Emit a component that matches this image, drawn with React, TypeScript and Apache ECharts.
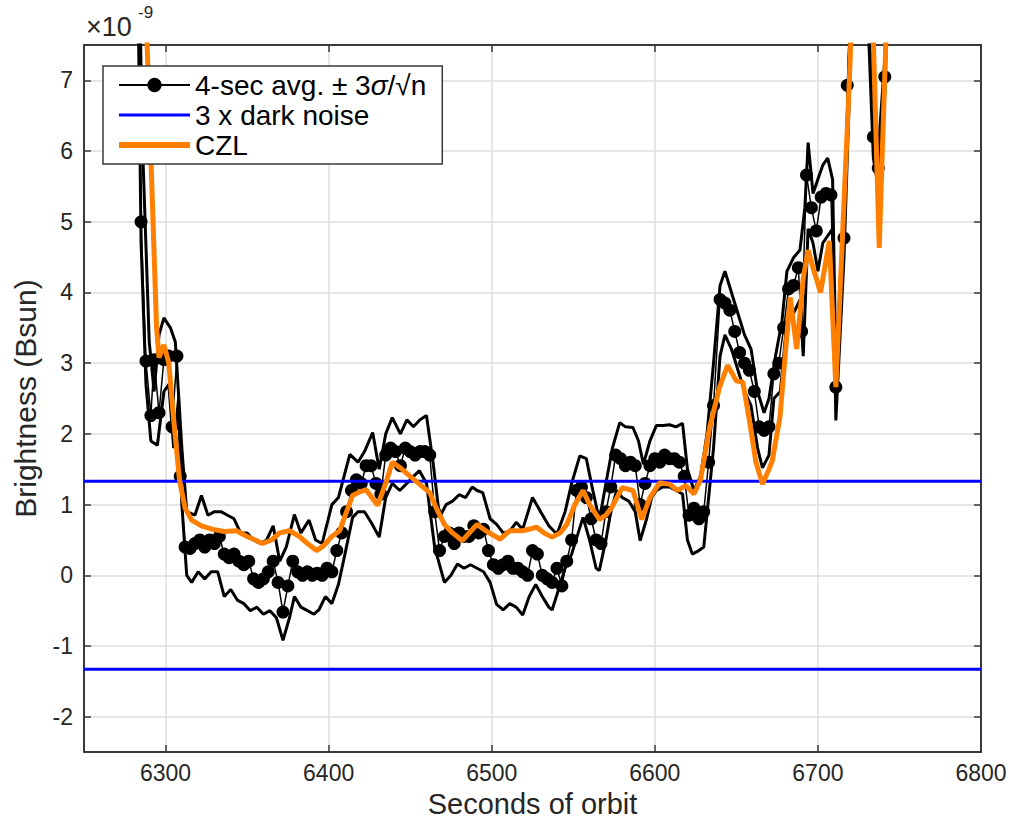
import React, { useEffect, useRef } from "react";
import * as echarts from "echarts";

// ---- Data (units of 1e-9 Bsun) ----
const xMin = 6250;
const xMax = 6800;
const yMin = -2.5;
const yMax = 7.5;

const meanName = "4-sec avg. ± 3σ/√n";
const noiseName = "3 x dark noise";
const czlName = "CZL";

const darkNoiseLevel = 1.33;
const darkNoiseX = [6250, 6800];

// 4-sec averages (with markers)
const meanX = [
  6283, 6285, 6288, 6291, 6293, 6296, 6299, 6302, 6304, 6307, 6309, 6312, 6315, 6318, 6321, 6324, 6327, 6330,
  6333, 6336, 6339, 6342, 6345, 6348, 6351, 6354, 6357, 6360, 6363, 6366, 6369, 6372, 6375, 6378, 6381, 6384,
  6387, 6390, 6393, 6396, 6399, 6402, 6405, 6408, 6411, 6414, 6417, 6420, 6423, 6426, 6429, 6432, 6435, 6438,
  6441, 6444, 6447, 6450, 6453, 6456, 6459, 6462, 6465, 6468, 6471, 6474, 6477, 6480, 6483, 6486, 6489, 6492,
  6495, 6498, 6501, 6504, 6507, 6510, 6513, 6516, 6519, 6522, 6525, 6528, 6531, 6534, 6537, 6540, 6543, 6546,
  6549, 6552, 6555, 6558, 6561, 6564, 6567, 6570, 6573, 6576, 6579, 6582, 6585, 6588, 6591, 6594, 6597, 6600,
  6603, 6606, 6609, 6612, 6615, 6618, 6621, 6624, 6627, 6630, 6633, 6636, 6640, 6643, 6646, 6649, 6652, 6655,
  6658, 6661, 6664, 6667, 6670, 6673, 6676, 6679, 6682, 6685, 6688, 6690, 6693, 6696, 6699, 6702, 6705, 6708,
  6711, 6716, 6718, 6722, 6728, 6734, 6737, 6741, 6744,
];
const meanY = [
  9.0, 5.0, 3.03, 2.26, 3.05, 2.3, 3.05, 3.1, 2.1, 3.1, 1.4, 0.4, 0.38, 0.45, 0.5, 0.4, 0.5, 0.45,
  0.55, 0.3, 0.25, 0.3, 0.2, 0.15, 0.2, -0.05, -0.1, -0.05, 0.05, 0.2, -0.1, -0.52, -0.15, 0.2, 0.05, 0.0,
  0.05, 0.0, 0.03, 0.0, 0.1, 0.05, 0.35, 0.6, 0.9, 1.2, 1.35, 1.3, 1.55, 1.55, 1.3, 1.15, 1.7, 1.8,
  1.75, 1.55, 1.8, 1.75, 1.7, 1.75, 1.75, 1.7, 0.9, 0.35, 0.55, 0.6, 0.45, 0.6, 0.55, 0.55, 0.7, 0.6,
  0.65, 0.35, 0.15, 0.1, 0.15, 0.2, 0.1, 0.1, 0.05, 0.0, 0.35, 0.3, 0.0, -0.05, -0.1, 0.1, -0.15, 0.2,
  0.5, 1.2, 1.25, 1.1, 0.8, 0.5, 0.45, 0.9, 1.25, 1.7, 1.65, 1.55, 1.6, 1.55, 1.0, 1.3, 1.55, 1.65,
  1.6, 1.7, 1.65, 1.65, 1.6, 1.4, 0.85, 0.95, 0.8, 0.9, 1.6, 2.4, 3.9, 3.85, 3.75, 3.45, 3.15, 3.0,
  2.9, 2.6, 2.1, 2.05, 2.1, 2.85, 3.0, 3.5, 4.05, 4.1, 4.35, 3.45, 5.66, 5.2, 4.87, 5.35, 5.4, 5.38,
  2.66, 4.77, 6.93, 9.5, 9.5, 6.2, 5.76, 7.05, 9.0,
];

// upper bound (avg + 3σ/√n)
const upperX = [
  6283, 6286, 6290, 6293, 6296, 6299, 6303, 6306, 6310, 6313, 6318, 6322, 6326, 6330, 6334, 6338, 6342, 6346,
  6350, 6354, 6358, 6362, 6366, 6370, 6374, 6379, 6383, 6388, 6392, 6396, 6402, 6406, 6413, 6418, 6422, 6427,
  6431, 6435, 6439, 6444, 6448, 6452, 6456, 6460, 6464, 6468, 6472, 6476, 6480, 6484, 6488, 6491, 6494.5, 6499,
  6503, 6507, 6511, 6515, 6519, 6525, 6530, 6535, 6540, 6545, 6549, 6554, 6558, 6562, 6566, 6570, 6574, 6578.5,
  6582, 6586.6, 6590, 6593, 6597, 6601, 6605, 6609, 6613, 6617, 6620, 6624, 6628, 6632, 6636, 6640, 6643, 6647,
  6651, 6655, 6659, 6663, 6667, 6670, 6674, 6678, 6681, 6685, 6689, 6692, 6694, 6697, 6700, 6703, 6706, 6709,
  6711, 6716, 6719, 6722, 6728, 6734, 6737, 6741, 6744,
];
const upperY = [
  9.5, 6.0, 3.3, 2.6, 3.4, 3.64, 3.5, 3.3, 1.8, 0.9, 0.85, 1.13, 0.85, 0.9, 0.9, 0.85, 0.8, 0.6,
  0.6, 0.5, 0.45, 0.5, 0.7, 0.2, 0.4, 0.86, 0.6, 0.78, 0.5, 0.45, 1.0, 1.1, 1.71, 1.6, 1.75, 2.02,
  1.5, 2.0, 2.23, 2.0, 2.2, 2.1, 2.2, 2.26, 1.6, 0.82, 1.0, 1.05, 1.14, 1.1, 1.25, 1.2, 1.17, 0.8,
  0.72, 0.6, 0.62, 0.75, 0.65, 1.1, 0.9, 0.7, 0.58, 0.9, 1.3, 1.69, 1.65, 1.2, 0.78, 1.3, 1.8, 2.16,
  2.1, 2.09, 1.9, 1.57, 1.9, 2.12, 2.12, 2.13, 2.1, 2.15, 1.5, 1.2, 1.4, 2.0, 3.0, 4.1, 4.3, 4.0,
  3.7, 3.4, 3.2, 2.6, 2.3, 2.5, 3.1, 3.6, 4.3, 4.49, 4.6, 5.2, 6.12, 5.4, 5.6, 5.8, 5.9, 5.6,
  3.0, 5.0, 7.2, 9.5, 9.5, 6.5, 6.0, 7.3, 9.5,
];

// lower bound (avg - 3σ/√n)
const lowerX = [
  6283, 6285, 6288, 6291, 6295, 6299, 6302, 6305, 6308, 6310, 6313, 6316, 6320, 6324, 6328, 6332, 6336, 6340,
  6344, 6348, 6352, 6356, 6360, 6364, 6368, 6372, 6376, 6379, 6383, 6387, 6391, 6394, 6398, 6402, 6406, 6410,
  6414.7, 6418, 6422, 6426, 6431, 6435, 6439, 6443.6, 6448, 6452, 6455.7, 6460, 6465, 6471, 6475, 6479, 6483, 6487,
  6491, 6495, 6499, 6503, 6507, 6511, 6515, 6519, 6523, 6527, 6531, 6535, 6537, 6541, 6545, 6549, 6553, 6556,
  6560, 6564, 6566, 6570, 6573, 6576.6, 6580, 6584, 6588, 6591, 6595, 6598, 6601, 6605, 6609, 6613, 6617, 6620,
  6623, 6627, 6630, 6633, 6636, 6640, 6643, 6647, 6651, 6655, 6659, 6663, 6666, 6670, 6673, 6677, 6681, 6685,
  6689, 6691, 6694, 6697, 6700, 6703, 6706, 6709, 6711, 6716, 6719, 6722, 6728, 6734, 6737, 6741, 6744,
];
const lowerY = [
  8.5, 4.7, 2.7, 1.9, 1.84, 2.6, 2.7, 1.8, 2.5, 1.0, 0.0, -0.1, 0.05, -0.05, 0.05, 0.05, -0.3, -0.2,
  -0.35, -0.4, -0.5, -0.45, -0.55, -0.5, -0.6, -0.92, -0.6, -0.3, -0.45, -0.5, -0.55, -0.49, -0.3, -0.4, -0.13, 0.3,
  0.82, 0.9, 0.9, 0.75, 0.54, 1.1, 1.3, 1.2, 1.3, 1.4, 1.48, 1.3, 0.4, -0.1, 0.0, 0.16, 0.1, 0.15,
  0.1, 0.05, -0.1, -0.41, -0.49, -0.4, -0.45, -0.56, -0.3, -0.13, -0.3, -0.45, -0.49, -0.2, 0.1, 0.3, 0.6, 0.82,
  0.5, 0.1, 0.07, 0.5, 0.9, 1.2, 1.1, 1.05, 0.9, 0.49, 0.8, 1.1, 1.2, 1.25, 1.25, 1.2, 1.15, 0.5,
  0.3, 0.35, 0.4, 1.1, 1.8, 3.1, 3.4, 3.2, 2.9, 2.6, 2.4, 1.8, 1.52, 1.7, 2.5, 2.6, 3.6, 3.7,
  3.9, 3.1, 4.9, 4.7, 4.3, 4.7, 4.8, 4.9, 2.19, 4.5, 6.6, 9.5, 9.5, 5.9, 5.5, 6.8, 9.0,
];

// CZL model curve
const czlX = [
  6288, 6294.5, 6296, 6299, 6302, 6305, 6308.6, 6312, 6316, 6322, 6329, 6336, 6343.5, 6350, 6355, 6359.5, 6365, 6370,
  6376, 6382, 6387, 6392.6, 6397, 6402, 6406.7, 6411, 6414.7, 6419, 6423, 6430, 6435, 6439, 6444, 6450, 6455.7, 6462,
  6466, 6471, 6476, 6482, 6487, 6491, 6497, 6503, 6505, 6511, 6519, 6527.6, 6532, 6537, 6542, 6546, 6551, 6556,
  6560, 6566, 6570, 6573.6, 6580, 6586.6, 6592, 6597, 6603, 6609, 6614, 6619, 6624, 6628, 6633.6, 6639.7, 6644.6, 6650,
  6654, 6658, 6662, 6666, 6670, 6672, 6676.7, 6681, 6683, 6687, 6691, 6694, 6697, 6701.6, 6707, 6711, 6719.3, 6724,
  6731, 6737.6, 6743,
];
const czlY = [
  8.0, 3.5, 3.08, 3.26, 3.0, 2.2, 1.34, 0.95, 0.78, 0.7, 0.65, 0.62, 0.63, 0.55, 0.5, 0.45, 0.5, 0.6,
  0.63, 0.55, 0.45, 0.35, 0.42, 0.55, 0.63, 0.9, 1.13, 1.18, 1.21, 0.99, 1.3, 1.6, 1.52, 1.4, 1.29, 1.17,
  0.95, 0.72, 0.6, 0.49, 0.62, 0.72, 0.62, 0.54, 0.51, 0.63, 0.63, 0.68, 0.6, 0.54, 0.6, 0.72, 1.0, 1.2,
  1.0, 0.79, 0.85, 0.96, 1.24, 1.2, 0.79, 1.1, 1.31, 1.29, 1.2, 1.27, 1.15, 1.35, 2.09, 2.66, 2.97, 2.75,
  2.73, 2.19, 1.6, 1.29, 1.5, 1.62, 2.23, 3.4, 3.93, 3.2, 4.2, 4.6, 4.35, 4.0, 4.73, 2.66, 7.0, 10.0,
  10.0, 4.63, 8.5,
];

const zip = (xs: number[], ys: number[]) => xs.map((x, i) => [x, ys[i]]);

const FONT = "Liberation Sans, Arial, Helvetica, sans-serif";
const TXT = "#262626";
const AXIS = "#3a3a3a";
const GRID = "#dedede";
const BLUE = "#0000ff";
const ORANGE = "#ff8000";

export default function App() {
  const ref = useRef<HTMLDivElement>(null);

  useEffect(() => {
    if (!ref.current) return;
    const chart = echarts.init(ref.current, undefined, { renderer: "svg" });

    const baseX = {
      type: "value" as const,
      min: xMin,
      max: xMax,
      splitNumber: 5,
    };
    const baseY = {
      type: "value" as const,
      min: yMin,
      max: yMax,
      splitNumber: 10,
    };

    chart.setOption({
      animation: false,
      backgroundColor: "#ffffff",
      textStyle: { fontFamily: FONT },
      grid: { left: 84, right: 33, top: 45, bottom: 68, containLabel: false },
      xAxis: [
        {
          ...baseX,
          position: "bottom",
          name: "Seconds of orbit",
          nameLocation: "middle",
          nameGap: 36,
          nameTextStyle: { fontSize: 29, color: TXT, fontFamily: FONT },
          axisLine: { show: true, onZero: false, lineStyle: { color: AXIS, width: 2 } },
          axisTick: { show: true, inside: true, length: 7, lineStyle: { color: AXIS, width: 1.5 } },
          axisLabel: {
            fontSize: 23,
            color: TXT,
            margin: 9,
            showMinLabel: false,
            fontFamily: FONT,
            formatter: (v: number) => String(v),
          },
          splitLine: { show: true, lineStyle: { color: GRID, width: 1.5 } },
        },
        {
          ...baseX,
          position: "top",
          axisLine: { show: true, onZero: false, lineStyle: { color: AXIS, width: 2 } },
          axisTick: { show: true, inside: true, length: 7, lineStyle: { color: AXIS, width: 1.5 } },
          axisLabel: { show: false },
          splitLine: { show: false },
        },
      ],
      yAxis: [
        {
          ...baseY,
          position: "left",
          name: "Brightness (Bsun)",
          nameLocation: "middle",
          nameGap: 44,
          nameTextStyle: { fontSize: 30, color: TXT, fontFamily: FONT },
          axisLine: { show: true, onZero: false, lineStyle: { color: AXIS, width: 2 } },
          axisTick: { show: true, inside: true, length: 7, lineStyle: { color: AXIS, width: 1.5 } },
          axisLabel: {
            fontSize: 23,
            color: TXT,
            margin: 11,
            showMinLabel: false,
            showMaxLabel: false,
            fontFamily: FONT,
          },
          splitLine: { show: true, lineStyle: { color: GRID, width: 1.5 } },
        },
        {
          ...baseY,
          position: "right",
          axisLine: { show: true, onZero: false, lineStyle: { color: AXIS, width: 2 } },
          axisTick: { show: true, inside: true, length: 7, lineStyle: { color: AXIS, width: 1.5 } },
          axisLabel: { show: false },
          splitLine: { show: false },
        },
      ],
      legend: {
        data: [
          { name: meanName, lineStyle: { width: 2, color: "#000000" } },
          { name: noiseName, itemStyle: { opacity: 0 }, lineStyle: { width: 3, color: BLUE } },
          { name: czlName, itemStyle: { opacity: 0 }, lineStyle: { width: 6, color: ORANGE } },
        ],
        orient: "vertical",
        left: 103,
        top: 66,
        z: 20,
        itemWidth: 71,
        itemHeight: 18,
        itemGap: 2,
        padding: [5, 16, 5, 13],
        backgroundColor: "#ffffff",
        borderColor: AXIS,
        borderWidth: 1.5,
        borderRadius: 0,
        selectedMode: false,
        formatter: (name: string) => (name === meanName ? "4-sec avg. ± 3{i|σ}/√n" : name),
        textStyle: {
          fontSize: 28,
          lineHeight: 26,
          color: "#000000",
          fontFamily: FONT,
          rich: { i: { fontStyle: "italic", fontSize: 28, lineHeight: 26, fontFamily: FONT, color: "#000000" } },
        },
      },
      graphic: [
        { type: "text", left: 86, top: 13, style: { text: "×10", fontSize: 27, fill: TXT, fontFamily: FONT } },
        { type: "text", left: 138, top: 4, style: { text: "-9", fontSize: 17, fill: TXT, fontFamily: FONT } },
      ],
      series: [
        {
          name: "upper",
          type: "line",
          data: zip(upperX, upperY),
          showSymbol: false,
          symbol: "none",
          lineStyle: { color: "#000000", width: 3 },
          itemStyle: { color: "#000000" },
          z: 2,
        },
        {
          name: "lower",
          type: "line",
          data: zip(lowerX, lowerY),
          showSymbol: false,
          symbol: "none",
          lineStyle: { color: "#000000", width: 3 },
          itemStyle: { color: "#000000" },
          z: 2,
        },
        {
          name: meanName,
          type: "line",
          data: zip(meanX, meanY),
          symbol: "circle",
          symbolSize: 13,
          showAllSymbol: true,
          lineStyle: { color: "#000000", width: 1.5 },
          itemStyle: { color: "#000000" },
          z: 3,
        },
        {
          name: noiseName,
          type: "line",
          data: darkNoiseX.map((x) => [x, darkNoiseLevel]),
          symbol: "none",
          lineStyle: { color: BLUE, width: 3 },
          itemStyle: { color: BLUE },
          z: 4,
        },
        {
          name: noiseName,
          type: "line",
          data: darkNoiseX.map((x) => [x, -darkNoiseLevel]),
          symbol: "none",
          lineStyle: { color: BLUE, width: 3 },
          itemStyle: { color: BLUE },
          z: 4,
        },
        {
          name: czlName,
          type: "line",
          data: zip(czlX, czlY),
          symbol: "none",
          lineStyle: { color: ORANGE, width: 5 },
          itemStyle: { color: ORANGE },
          z: 5,
        },
      ],
    });

    return () => chart.dispose();
  }, []);

  return (
    <div
      ref={ref}
      style={{ position: "absolute", left: 0, top: 0, width: 1014, height: 823, background: "#fff" }}
    />
  );
}
